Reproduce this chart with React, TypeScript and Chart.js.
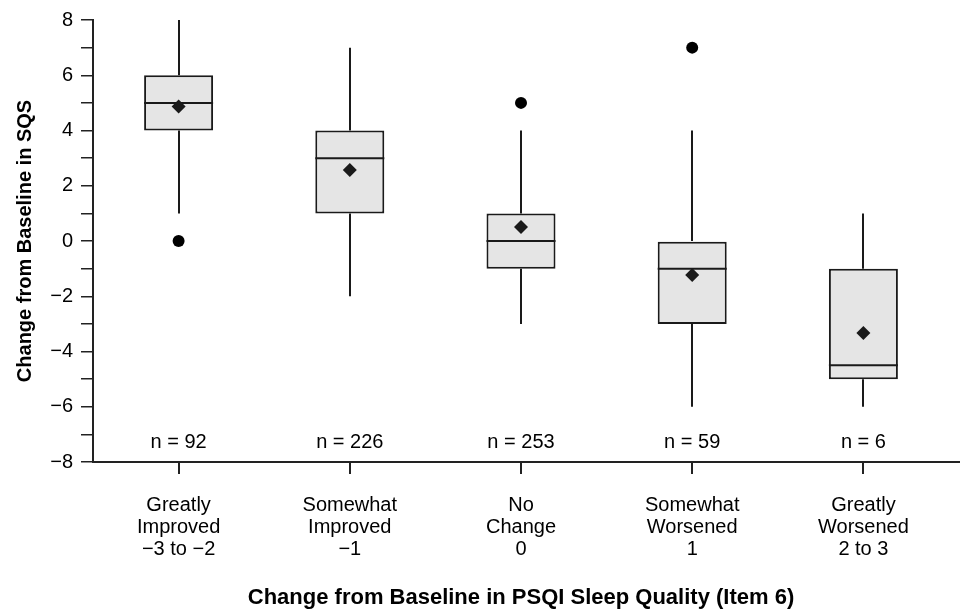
import React, { useEffect, useRef } from "react";
import { Chart, registerables } from "chart.js";

Chart.register(...registerables);

const categories = [
  ["Greatly", "Improved", "\u22123 to \u22122"],
  ["Somewhat", "Improved", "\u22121"],
  ["No", "Change", "0"],
  ["Somewhat", "Worsened", "1"],
  ["Greatly", "Worsened", "2 to 3"],
];
const whiskerMin = [1, -2, -3, -6, -6];
const q1 = [4, 1, -1, -3, -5];
const median = [5, 3, 0, -1, -4.5];
const q3 = [6, 4, 1, 0, -1];
const whiskerMax = [8, 7, 4, 4, 1];
const means = [4.87, 2.57, 0.51, -1.23, -3.33];
const outliers = [0, null, 5, 7, null];
const nLabels = ["n = 92", "n = 226", "n = 253", "n = 59", "n = 6"];
const nLabelValue = -7.3;
const yTicks = [-8, -6, -4, -2, 0, 2, 4, 6, 8];
const yTitle = "Change from Baseline in SQS";
const xTitle = "Change from Baseline in PSQI Sleep Quality (Item 6)";

const FONT = "'Liberation Sans', Arial, Helvetica, sans-serif";
const LINE = "#1a1a1a";

const fmt = (v: number) => (v < 0 ? "\u2212" + Math.abs(v) : String(v));

const boxPlugin = {
  id: "boxExtras",
  beforeDatasetsDraw(chart: any) {
    const { ctx } = chart;
    const x = chart.scales.x;
    const y = chart.scales.y;
    ctx.save();
    ctx.strokeStyle = LINE;
    ctx.lineWidth = 2;
    for (let i = 0; i < categories.length; i++) {
      const cx = Math.round(x.getPixelForValue(i));
      ctx.beginPath();
      ctx.moveTo(cx, y.getPixelForValue(q3[i]));
      ctx.lineTo(cx, y.getPixelForValue(whiskerMax[i]));
      ctx.moveTo(cx, y.getPixelForValue(q1[i]));
      ctx.lineTo(cx, y.getPixelForValue(whiskerMin[i]));
      ctx.stroke();
    }
    ctx.restore();
  },
  afterDatasetDraw(chart: any, args: any) {
    if (args.index !== 0) return;
    const { ctx } = chart;
    const y = chart.scales.y;
    const meta = chart.getDatasetMeta(0);
    ctx.save();
    ctx.strokeStyle = LINE;
    ctx.lineWidth = 2;
    meta.data.forEach((bar: any, i: number) => {
      const half = bar.width / 2;
      const py = y.getPixelForValue(median[i]);
      ctx.beginPath();
      ctx.moveTo(bar.x - half, py);
      ctx.lineTo(bar.x + half, py);
      ctx.stroke();
    });
    ctx.restore();
  },
  afterDraw(chart: any) {
    const { ctx, chartArea } = chart;
    const x = chart.scales.x;
    const y = chart.scales.y;
    ctx.save();
    ctx.fillStyle = "#000";
    ctx.font = `20px ${FONT}`;
    ctx.textAlign = "center";
    ctx.textBaseline = "middle";
    nLabels.forEach((t, i) => {
      ctx.fillText(t, x.getPixelForValue(i), y.getPixelForValue(nLabelValue));
    });
    // extend x axis line to the right edge
    ctx.strokeStyle = "#222";
    ctx.lineWidth = 2;
    const by = Math.round(chartArea.bottom);
    ctx.beginPath();
    ctx.moveTo(chartArea.right - 1, by);
    ctx.lineTo(chart.width, by);
    ctx.stroke();
    ctx.restore();
  },
};

export default function App() {
  const ref = useRef<HTMLCanvasElement | null>(null);
  useEffect(() => {
    if (!ref.current) return;
    Chart.defaults.font.family = FONT;
    Chart.defaults.color = "#000";
    const chart = new Chart(ref.current, {
      type: "bar",
      data: {
        labels: categories as any,
        datasets: [
          {
            type: "bar",
            data: q1.map((v, i) => [v, q3[i]]) as any,
            backgroundColor: "#e5e5e5",
            borderColor: LINE,
            borderWidth: 2,
            borderSkipped: false,
            barPercentage: 0.403,
            categoryPercentage: 1,
            order: 3,
          } as any,
          {
            type: "line",
            data: outliers as any,
            showLine: false,
            pointStyle: "circle",
            pointRadius: 6,
            backgroundColor: "#000",
            borderColor: "#000",
            borderWidth: 0,
            order: 2,
          } as any,
          {
            type: "line",
            data: means as any,
            showLine: false,
            pointStyle: "rectRot",
            pointRadius: 7,
            backgroundColor: "#1a1a1a",
            borderColor: "#1a1a1a",
            borderWidth: 0,
            order: 1,
          } as any,
        ],
      },
      options: {
        animation: false,
        responsive: false,
        maintainAspectRatio: false,
        layout: { padding: { left: 0, right: 11, top: 20, bottom: 0 } },
        plugins: { legend: { display: false }, tooltip: { enabled: false } },
        scales: {
          x: {
            type: "category",
            offset: true,
            grid: {
              offset: false,
              drawOnChartArea: false,
              tickLength: 12,
              color: "#222",
              lineWidth: 2,
            },
            border: { color: "#222", width: 2 },
            ticks: {
              color: "#000",
              font: { size: 20, lineHeight: 1.08 },
              padding: 21,
              maxRotation: 0,
              autoSkip: false,
            },
            title: {
              display: true,
              text: xTitle,
              font: { size: 22, weight: "bold" },
              color: "#000",
              padding: { top: 0, bottom: 1 },
            },
            afterFit(s: any) {
              s.height = 150;
            },
          },
          y: {
            min: -8,
            max: 8,
            afterBuildTicks(s: any) {
              const t: any[] = [];
              for (let v = -8; v <= 8; v++) t.push({ value: v });
              s.ticks = t;
            },
            grid: {
              drawOnChartArea: false,
              tickLength: 12,
              color: "#222",
              lineWidth: 1.5,
            },
            border: { color: "#222", width: 2 },
            ticks: {
              autoSkip: false,
              color: "#000",
              font: { size: 20 },
              padding: 8,
              callback: (v: any) => (yTicks.includes(Number(v)) ? fmt(Number(v)) : ""),
            },
            title: {
              display: true,
              text: yTitle,
              font: { size: 20, weight: "bold" },
              color: "#000",
              padding: { top: 13, bottom: 0 },
            },
            afterFit(s: any) {
              s.width = 93;
            },
          },
        },
      } as any,
      plugins: [boxPlugin],
    });
    return () => chart.destroy();
  }, []);
  return (
    <div style={{ position: "absolute", left: 0, top: 0, width: 960, height: 612, background: "#fff" }}>
      <canvas ref={ref} width={960} height={612} style={{ width: 960, height: 612 }} />
    </div>
  );
}
